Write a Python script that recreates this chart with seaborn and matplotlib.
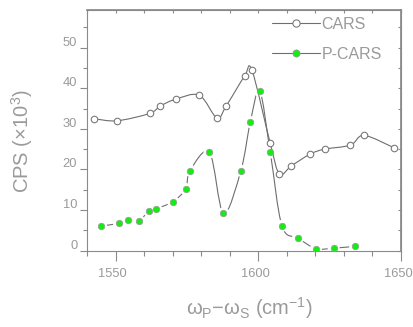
import numpy as np
import matplotlib
matplotlib.use("Agg")
import matplotlib.pyplot as plt
import matplotlib.transforms as mtransforms
from matplotlib.path import Path
from matplotlib.patches import PathPatch
from matplotlib.lines import Line2D
from matplotlib.ticker import MultipleLocator, FixedLocator
import seaborn as sns

# Raman shift (cm^-1) and counts (x10^3) for the two spectra
cars_shift = [1542.6, 1550.5, 1561.9, 1565.6, 1571.0, 1579.3, 1585.5, 1588.8,
              1595.2, 1597.8, 1604.2, 1607.4, 1611.6, 1618.2, 1623.2, 1632.3,
              1637.0, 1647.7]
cars_cps = [32.5, 32.0, 33.8, 35.6, 37.3, 38.3, 32.7, 35.7,
            43.0, 44.4, 26.4, 18.9, 20.9, 23.8, 25.0, 26.0,
            28.4, 25.3]

pcars_shift = [1544.9, 1551.2, 1554.3, 1558.1, 1561.8, 1564.2, 1570.1, 1574.5,
               1576.1, 1582.9, 1587.8, 1593.9, 1597.2, 1600.5, 1604.2, 1608.3,
               1613.9, 1620.2, 1626.4, 1633.9]
pcars_cps = [6.1, 6.7, 7.6, 7.4, 9.75, 10.3, 12.1, 15.2,
             19.7, 24.2, 9.2, 19.7, 31.7, 39.3, 24.2, 6.1,
             3.1, 0.5, 0.6, 1.06]

series_labels = ["CARS", "P-CARS"]
x_label = r"ω$_\mathregular{P}$−ω$_\mathregular{S}$ (cm$^\mathregular{−1}$)"
y_label = r"CPS (×10$^\mathregular{3}$)"

sns.set_theme(style="white")
plt.rcParams["font.family"] = ["Liberation Sans", "DejaVu Sans"]
plt.rcParams["mathtext.fontset"] = "custom"
plt.rcParams["mathtext.rm"] = "Liberation Sans"
plt.rcParams["mathtext.it"] = "Liberation Sans:italic"

TEXT = "#9a9a9a"
AXIS = "#8a8a8a"
LINE = "#6e6e6e"
GREEN = "#14ec14"


def smooth_path(x, y):
    """Catmull-Rom curve through the points, as cubic Bezier segments."""
    pts = np.column_stack([x, y]).astype(float)
    ext = np.vstack([pts[0], pts, pts[-1]])
    verts = [pts[0]]
    codes = [Path.MOVETO]
    for i in range(len(pts) - 1):
        p0, p1, p2, p3 = ext[i], ext[i + 1], ext[i + 2], ext[i + 3]
        verts += [p1 + (p2 - p0) / 6.0, p2 - (p3 - p1) / 6.0, p2]
        codes += [Path.CURVE4] * 3
    return Path(verts, codes)


fig = plt.figure(figsize=(4.13, 3.27), dpi=100)
ax = fig.add_axes([0.2107, 0.2336, 0.7603, 0.7358])

# P-CARS curve, broken around each symbol by a white halo
ax.add_patch(PathPatch(smooth_path(pcars_shift, pcars_cps), fill=False,
                       edgecolor=LINE, lw=0.8, zorder=1))
sns.scatterplot(x=pcars_shift, y=pcars_cps, s=75, color="white",
                edgecolor="none", linewidth=0, ax=ax, zorder=2)

# CARS curve
ax.add_patch(PathPatch(smooth_path(cars_shift, cars_cps), fill=False,
                       edgecolor=LINE, lw=0.8, zorder=3))
sns.scatterplot(x=cars_shift, y=cars_cps, s=22, color="white",
                edgecolor="#7a7a7a", linewidth=0.8, ax=ax, zorder=4)
sns.scatterplot(x=pcars_shift, y=pcars_cps, s=22, color=GREEN,
                edgecolor="#9a9a9a", linewidth=0.5, ax=ax, zorder=4)

ax.set_xlim(1540, 1650)
ax.set_ylim(0, 59.3)

for side in ["left", "bottom", "top", "right"]:
    ax.spines[side].set_color(AXIS)
    ax.spines[side].set_linewidth(0.8)

ax.xaxis.set_major_locator(FixedLocator([1550, 1600, 1650]))
ax.xaxis.set_minor_locator(MultipleLocator(10))
ax.yaxis.set_major_locator(MultipleLocator(10))
ax.yaxis.set_minor_locator(MultipleLocator(5))
ax.tick_params(axis="both", which="both", direction="out", color=AXIS,
               labelcolor=TEXT, labelsize=9.3, width=0.8,
               bottom=True, left=True, top=False, right=False)
ax.tick_params(axis="x", which="major", length=7.2, pad=5.5)
ax.tick_params(axis="x", which="minor", length=3.6)
ax.tick_params(axis="y", which="major", length=5.0, pad=2)
ax.tick_params(axis="y", which="minor", length=3.2)

shift_up = mtransforms.ScaledTranslation(0, 0.065, fig.dpi_scale_trans)
for lab in ax.get_yticklabels():
    lab.set_transform(lab.get_transform() + shift_up)
shift_left = mtransforms.ScaledTranslation(-0.03, 0, fig.dpi_scale_trans)
for lab in ax.get_xticklabels():
    lab.set_transform(lab.get_transform() + shift_left)

# small inward ticks along the top and right frame
top = ax.secondary_xaxis("top")
top.set_xticks(np.arange(1540, 1651, 10))
top.tick_params(direction="in", length=2, width=0.8, color=AXIS, labeltop=False)
top.spines["top"].set_color(AXIS)
right = ax.secondary_yaxis("right")
right.set_yticks(np.arange(0, 60, 5))
right.tick_params(direction="in", length=2, width=0.8, color=AXIS, labelright=False)
right.spines["right"].set_color(AXIS)

ax.set_xlabel(x_label, fontsize=14.5, color=TEXT)
ax.set_ylabel(y_label, fontsize=14.5, color=TEXT)
ax.xaxis.set_label_coords(0.516, -0.185)
ax.yaxis.set_label_coords(-0.165, 0.456)

handles = [
    Line2D([], [], color=LINE, lw=0.8, marker="o", ms=5.2, mfc="white",
           mec="#7a7a7a", mew=0.8),
    Line2D([], [], color=LINE, lw=0.8, marker="o", ms=5.2, mfc=GREEN,
           mec="#9a9a9a", mew=0.5),
]
leg = ax.legend(handles, series_labels, loc="upper left",
                bbox_to_anchor=(0.57, 0.995), frameon=False, fontsize=11.5,
                handlelength=3.0, handletextpad=0.12, labelspacing=0.95,
                borderpad=0.35, borderaxespad=0)
for t in leg.get_texts():
    t.set_color(TEXT)

fig.savefig("out.png", dpi=100)
